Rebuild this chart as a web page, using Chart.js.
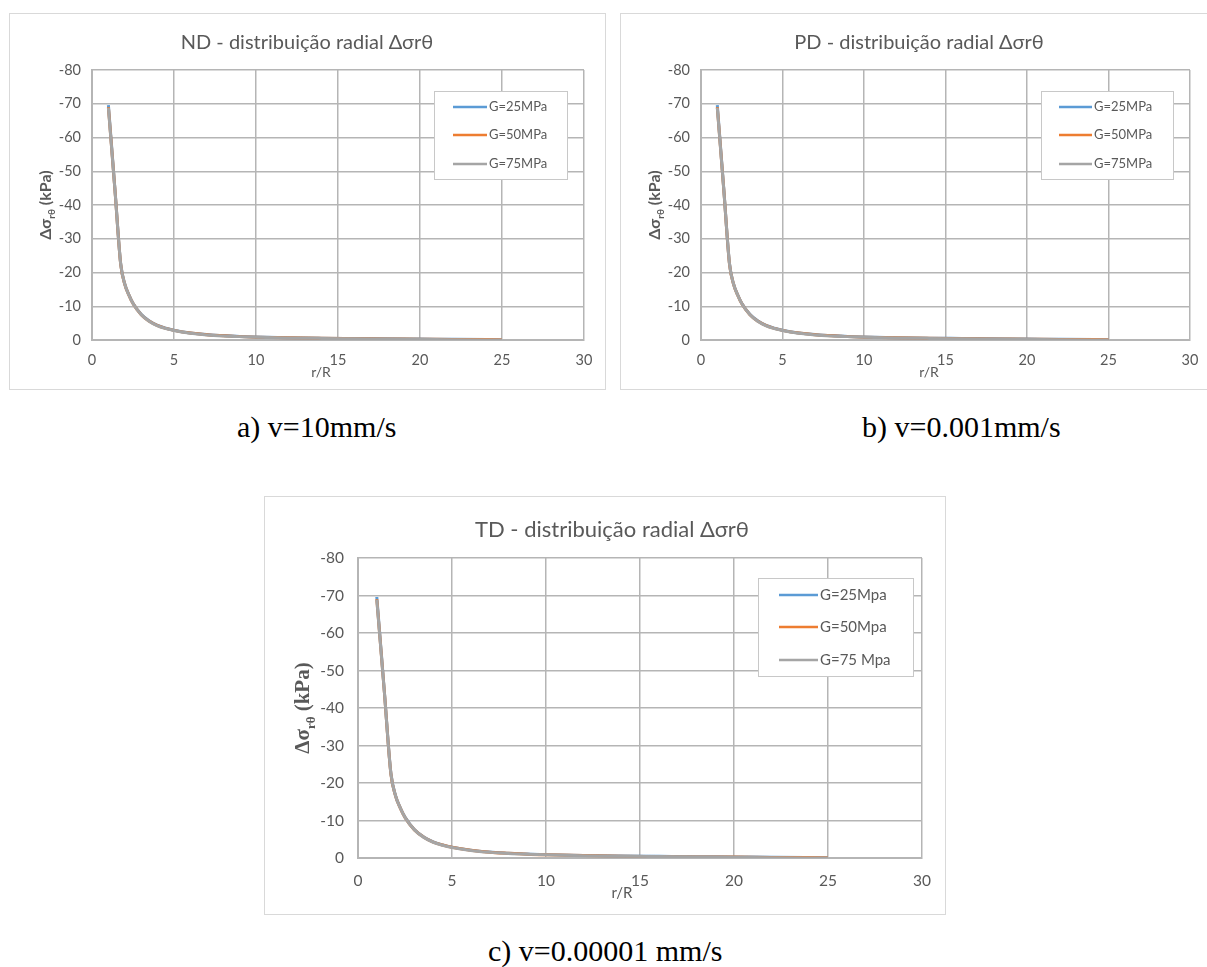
<!DOCTYPE html>
<html lang="pt">
<head>
<meta charset="utf-8">
<title>Distribuição radial Δσrθ</title>
<script src="https://cdn.jsdelivr.net/npm/chart.js@4/dist/chart.umd.min.js"></script>
<style>
  html, body { margin: 0; padding: 0; background: #fff; width: 1207px; height: 967px; overflow: hidden; }
  .quadro { position: absolute; outline: 1px solid #d9d9d9; background: #fff; }
  .quadro canvas { display: block; }
  .rotulo { position: absolute; font-family: 'Liberation Serif', 'Times New Roman', serif; font-size: 30px; line-height: 30px; color: #000; white-space: nowrap; }
</style>
</head>
<body>

<div class="quadro" style="left:10px; top:14px;"><canvas id="graficoND" width="595" height="375"></canvas></div>
<div class="quadro" style="left:621px; top:14px;"><canvas id="graficoPD" width="595" height="375"></canvas></div>
<div class="quadro" style="left:265px; top:497px;"><canvas id="graficoTD" width="680" height="417"></canvas></div>

<div class="rotulo" style="left:237px; top:412px;">a) v=10mm/s</div>
<div class="rotulo" style="left:862px; top:412px;">b) v=0.001mm/s</div>
<div class="rotulo" style="left:488px; top:936px;">c) v=0.00001 mm/s</div>

<script>
/* ------------------------------------------------------------
   Dados (r/R e Δσrθ em kPa)
   ------------------------------------------------------------ */
var razaoR = [1, 1.4, 1.75, 2, 2.25, 2.5, 3, 3.5, 4, 4.5, 5, 6, 7, 8, 9, 10, 12, 14, 16, 18, 20, 22, 25];
var serieG25 = [-69.6, -44.6, -22.6, -16.6, -13.4, -10.9, -7.6, -5.6, -4.3, -3.5, -2.9, -2.1, -1.6, -1.3, -1.05, -0.9, -0.7, -0.55, -0.45, -0.35, -0.28, -0.2, -0.1];
var serieG50 = [-69.0, -44.4, -22.4, -16.5, -13.3, -10.8, -7.5, -5.55, -4.25, -3.45, -2.85, -2.05, -1.55, -1.25, -1.0, -0.85, -0.65, -0.5, -0.4, -0.3, -0.25, -0.15, -0.1];
var serieG75 = [-68.8, -44.4, -22.5, -16.5, -13.3, -10.8, -7.5, -5.5, -4.2, -3.4, -2.8, -2.0, -1.5, -1.2, -1.0, -0.85, -0.62, -0.48, -0.38, -0.3, -0.22, -0.1, 0.0];

var eixoX = { min: 0, max: 30, passo: 5 };
var eixoY = { min: -80, max: 0, passo: 10 };

var titulosND = ['ND - distribuição radial Δσrθ', 'G=25MPa', 'G=50MPa', 'G=75MPa'];
var titulosPD = ['PD - distribuição radial Δσrθ', 'G=25MPa', 'G=50MPa', 'G=75MPa'];
var titulosTD = ['TD - distribuição radial Δσrθ', 'G=25Mpa', 'G=50Mpa', 'G=75 Mpa'];

/* Cores de série do Excel */
var AZUL = '#5B9BD5';
var LARANJA = '#ED7D31';
var CINZA = '#A5A5A5';
var TEXTO = '#595959';
var GRADE = '#b5b5b5';

function pontos(valores) {
  return razaoR.map(function (r, i) { return { x: r, y: valores[i] }; });
}

function serie(rotulo, valores, cor, ordem) {
  return {
    label: rotulo,
    data: pontos(valores),
    borderColor: cor,
    backgroundColor: cor,
    borderWidth: 3,
    pointRadius: 0,
    fill: false,
    cubicInterpolationMode: 'monotone',
    order: ordem
  };
}

/* Textos extra: título, título do eixo Y com subscrito, r/R e legenda em caixa */
function extras(cfg, titulos) {
  return {
    id: 'extras',
    afterDraw: function (chart) {
      var ctx = chart.ctx;
      ctx.save();
      ctx.fillStyle = TEXTO;

      /* título */
      ctx.font = cfg.fonteTitulo;
      ctx.textAlign = 'center';
      ctx.textBaseline = 'middle';
      ctx.fillText(titulos[0], cfg.titulo[0], cfg.titulo[1]);

      /* r/R */
      ctx.font = cfg.fonteEixo;
      ctx.fillText('r/R', cfg.rotuloX[0], cfg.rotuloX[1]);

      /* Δσrθ (kPa), girado */
      ctx.translate(cfg.rotuloY[0], cfg.rotuloY[1]);
      ctx.rotate(-Math.PI / 2);
      ctx.textAlign = 'left';
      ctx.textBaseline = 'alphabetic';
      var grande = 'bold ' + cfg.tamY + 'px ' + cfg.familiaY;
      var pequeno = 'bold ' + Math.round(cfg.tamY * 0.62) + 'px ' + cfg.familiaY;
      ctx.font = grande; var w1 = ctx.measureText('Δσ').width;
      ctx.font = pequeno; var w2 = ctx.measureText('rθ').width;
      ctx.font = grande; var w3 = ctx.measureText(' (kPa)').width;
      var x0 = -(w1 + w2 + w3) / 2;
      var base = cfg.tamY * 0.35;
      ctx.font = grande; ctx.fillText('Δσ', x0, base);
      ctx.font = pequeno; ctx.fillText('rθ', x0 + w1, base + cfg.tamY * 0.25);
      ctx.font = grande; ctx.fillText(' (kPa)', x0 + w1 + w2, base);
      ctx.setTransform(1, 0, 0, 1, 0, 0);

      /* legenda */
      var L = cfg.legenda;
      ctx.fillStyle = '#fff';
      ctx.fillRect(L.x, L.y, L.w, L.h);
      ctx.strokeStyle = '#c8c8c8';
      ctx.lineWidth = 1;
      ctx.strokeRect(L.x + 0.5, L.y + 0.5, L.w, L.h);
      var cores = [AZUL, LARANJA, CINZA];
      ctx.font = cfg.fonteLegenda;
      ctx.textAlign = 'left';
      ctx.textBaseline = 'middle';
      for (var i = 0; i < 3; i++) {
        ctx.strokeStyle = cores[i];
        ctx.lineWidth = 2.5;
        ctx.beginPath();
        ctx.moveTo(L.linha[0], L.linhas[i]);
        ctx.lineTo(L.linha[1], L.linhas[i]);
        ctx.stroke();
        ctx.fillStyle = TEXTO;
        ctx.fillText(titulos[i + 1], L.texto, L.linhas[i]);
      }
      ctx.restore();
    }
  };
}

function montar(id, cfg, titulos) {
  var lienzo = document.getElementById(id);
  var W = lienzo.width, H = lienzo.height;
  var fonteTicks = { family: 'Lato', size: cfg.tamTicks };
  return new Chart(lienzo, {
    type: 'line',
    data: {
      datasets: [
        serie(titulos[1], serieG25, AZUL, 2),
        serie(titulos[2], serieG50, LARANJA, 1),
        serie(titulos[3], serieG75, CINZA, 0)
      ]
    },
    options: {
      responsive: false,
      animation: false,
      events: [],
      layout: {
        padding: {
          left: cfg.area.left - cfg.larguraY,
          right: W - cfg.area.right,
          top: cfg.area.top,
          bottom: H - cfg.area.bottom - cfg.alturaX
        }
      },
      plugins: { legend: { display: false }, title: { display: false }, tooltip: { enabled: false } },
      scales: {
        x: {
          type: 'linear',
          min: eixoX.min, max: eixoX.max,
          ticks: { stepSize: eixoX.passo, color: TEXTO, font: fonteTicks, padding: cfg.padX, maxRotation: 0 },
          grid: { color: GRADE, lineWidth: 1.5, drawTicks: false },
          border: { color: GRADE, width: 2 },
          afterFit: function (s) { s.height = cfg.alturaX; }
        },
        y: {
          type: 'linear',
          min: eixoY.min, max: eixoY.max,
          reverse: true,
          ticks: { stepSize: eixoY.passo, color: TEXTO, font: fonteTicks, padding: cfg.padY },
          grid: { color: GRADE, lineWidth: 1.5, drawTicks: false },
          border: { color: GRADE, width: 2 },
          afterFit: function (s) { s.width = cfg.larguraY; }
        }
      }
    },
    plugins: [extras(cfg, titulos)]
  });
}

montar('graficoND', {
  area: { left: 82, right: 574, top: 56, bottom: 326 },
  larguraY: 40, alturaX: 30, padX: 12, padY: 11, tamTicks: 14.5,
  fonteTitulo: '20px Lato', titulo: [297, 29],
  fonteEixo: '14px Lato', rotuloX: [311, 358],
  tamY: 16, familiaY: 'Lato', rotuloY: [35, 191],
  fonteLegenda: '13px Lato',
  legenda: { x: 424, y: 77, w: 133, h: 88, linha: [443, 477], texto: 479, linhas: [93, 121, 150] }
}, titulosND);

montar('graficoPD', {
  area: { left: 80, right: 569, top: 56, bottom: 326 },
  larguraY: 40, alturaX: 30, padX: 12, padY: 11, tamTicks: 14.5,
  fonteTitulo: '20px Lato', titulo: [298, 29],
  fonteEixo: '14px Lato', rotuloX: [308, 358],
  tamY: 16, familiaY: 'Lato', rotuloY: [33, 191],
  fonteLegenda: '13px Lato',
  legenda: { x: 420, y: 77, w: 132, h: 88, linha: [438, 471], texto: 473, linhas: [93, 121, 150] }
}, titulosPD);

montar('graficoTD', {
  area: { left: 93, right: 663, top: 61, bottom: 361 },
  larguraY: 45, alturaX: 32, padX: 14, padY: 14, tamTicks: 15.5,
  fonteTitulo: '22px Lato', titulo: [347, 33],
  fonteEixo: '15px Lato', rotuloX: [357, 396],
  tamY: 21, familiaY: "'Liberation Serif'", rotuloY: [37, 211],
  fonteLegenda: '15px Lato',
  legenda: { x: 493, y: 81, w: 155, h: 98, linha: [514, 553], texto: 555, linhas: [98, 130, 163] }
}, titulosTD);
</script>
</body>
</html>
